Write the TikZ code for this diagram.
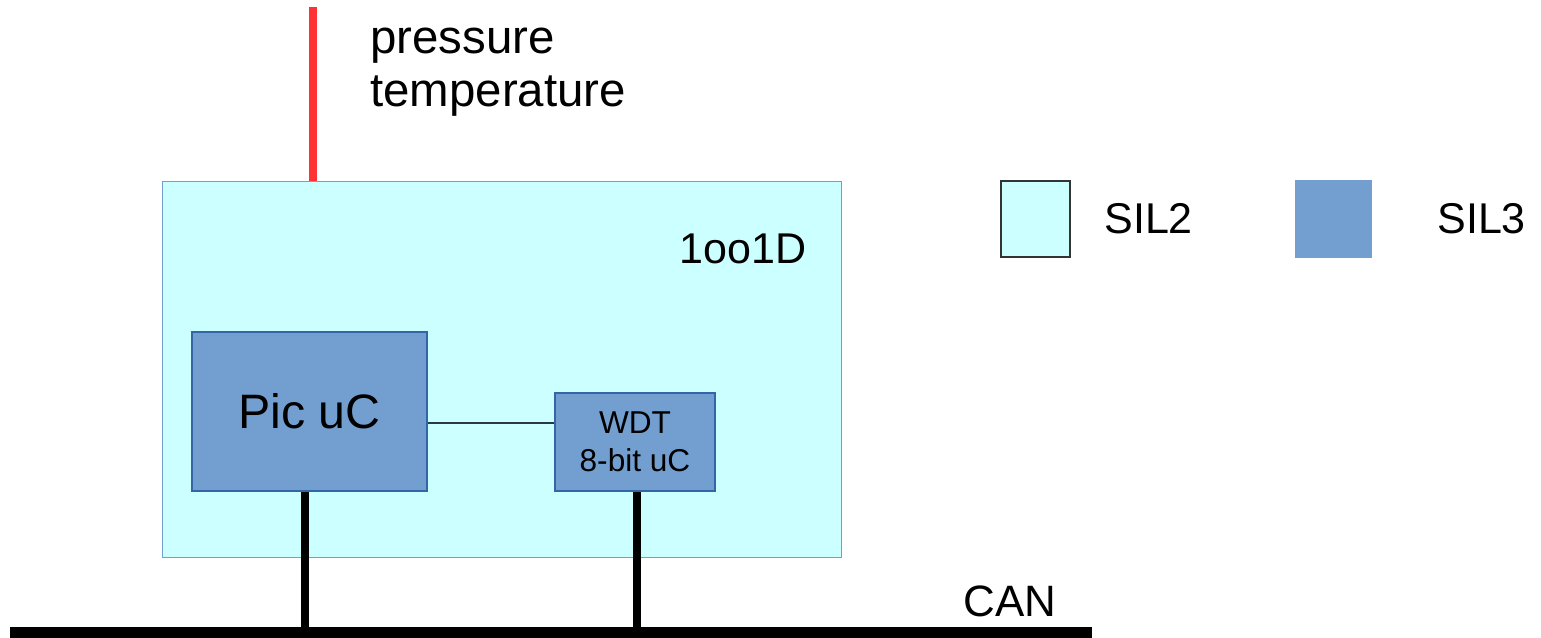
\documentclass[tikz,border=0pt]{standalone}
\usepackage{fontspec}
\setmainfont{Liberation Sans}
\usepackage{tikz}
\usetikzlibrary{positioning, calc}
\definecolor{silcyan}{HTML}{CCFFFF}
\definecolor{silblue}{HTML}{729FCF}
\definecolor{siledge}{HTML}{3465A4}
\definecolor{sensred}{HTML}{FF3333}
\tikzset{
    sil2box/.style={draw=silblue, fill=silcyan, line width=0.6pt, inner sep=0pt},
    sil3box/.style={draw=siledge, fill=silblue, line width=0.6pt, align=center, inner sep=0pt},
    keybox/.style={draw=black!80, fill=silcyan, line width=0.6pt, minimum width=1.38cm, minimum height=1.52cm, inner sep=0pt},
    keytxt/.style={anchor=west, font=\fontsize{24.5}{29}\selectfont, inner sep=0pt},
    bus/.style={line width=4.5pt, black},
    sensor/.style={line width=4.5pt, sensred},
    link/.style={line width=0.7pt, draw=black!65!silblue},
}
\begin{document}
\begin{tikzpicture}[x=0.02cm, y=-0.02cm]
        \useasboundingbox (0,0) rectangle (1541,638);
        % 1oo1D channel
        \node[sil2box, minimum width=13.6cm, minimum height=7.54cm] (chan) at (502,369.5) {};
        \node[font=\fontsize{24.5}{29}\selectfont, inner sep=0pt] (arch) at (743,249) {1oo1D};
        \node[sil3box, minimum width=4.7cm, minimum height=3.18cm, font=\fontsize{27.5}{33}\selectfont] (pic) at (309.5,411.5) {Pic uC};
        \node[sil3box, minimum width=3.2cm, minimum height=1.96cm, font=\fontsize{18}{21.5}\selectfont] (wdt) at (635,442) {WDT\\8-bit uC};
        \coordinate (lk) at (490,423);
        \draw[link] (pic.east |- lk) -- (wdt.west |- lk);
        % sensor input
        \coordinate (sens) at (313,7);
        \draw[sensor] (sens) -- (sens |- chan.north);
        \node[anchor=base west, align=left, inner sep=0pt, font=\fontsize{27}{30.6}\selectfont] (meas) at (370,107) {pressure\\temperature};
        % CAN bus
        \coordinate (busL) at (10,632.5);
        \coordinate (busR) at (1092,632.5);
        \draw[line width=6.5pt] (busL) -- (busR);
        \coordinate (tapA) at (305,632.5);
        \coordinate (tapB) at (637,632.5);
        \draw[bus] (tapA) -- (tapA |- pic.south);
        \draw[bus] (tapB) -- (tapB |- wdt.south);
        \node[font=\fontsize{25}{30}\selectfont, inner sep=0pt] (can) at (1010,601) {CAN};
        % legend
        \node[keybox] (key2) at (1035.5,219) {};
        \node[keytxt] (key2t) at (1104,219) {SIL2};
        \node[keybox, draw=silblue, fill=silblue, minimum width=1.5cm] (key3) at (1333.5,219) {};
        \node[keytxt] (key3t) at (1437,219) {SIL3};
    \end{tikzpicture}
\end{document}
